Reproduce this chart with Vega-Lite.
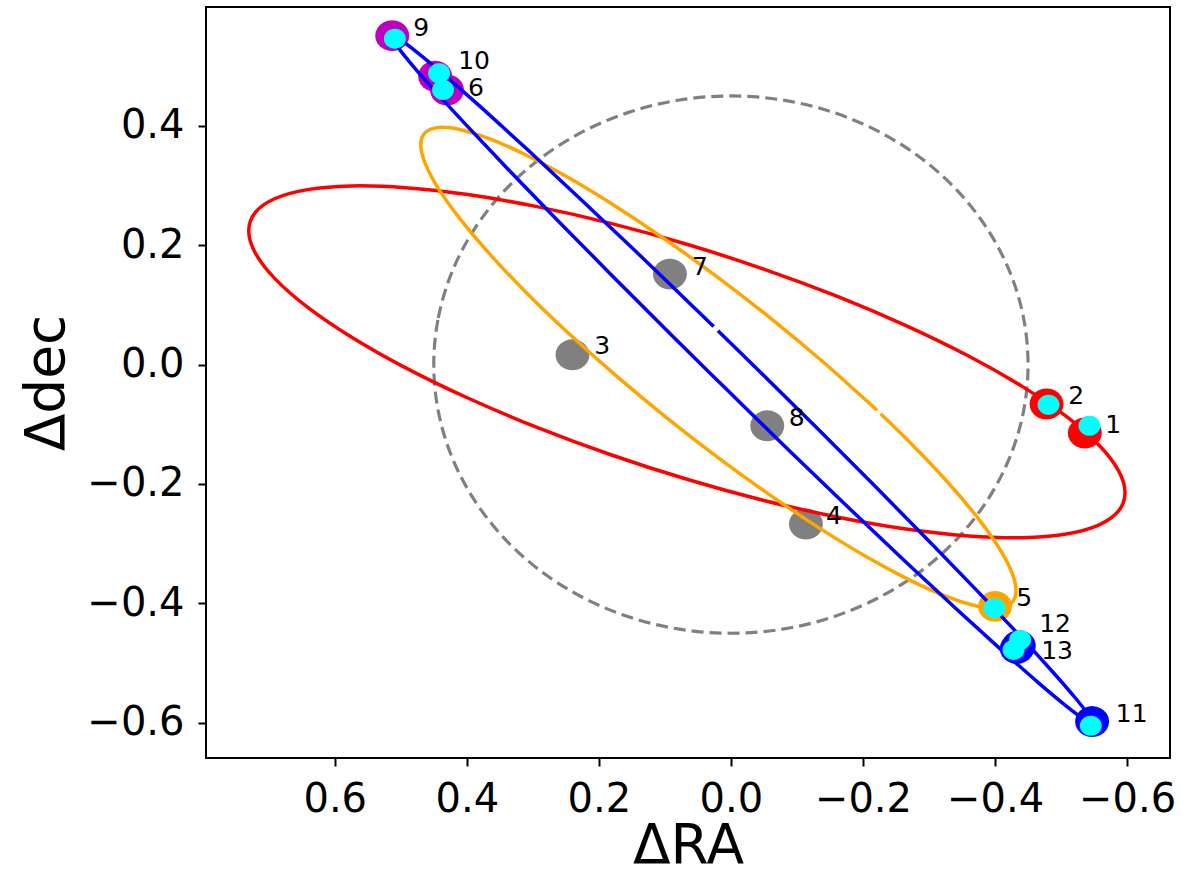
{
  "$schema": "https://vega.github.io/schema/vega-lite/v6.json",
  "width": 964,
  "height": 751,
  "autosize": {"type": "none"},
  "padding": {"left": 206, "top": 7, "right": 13, "bottom": 113},
  "background": "white",
  "config": {
    "view": {"stroke": "black", "strokeWidth": 2},
    "font": "DejaVu Sans",
    "axis": {
      "labelFont": "DejaVu Sans", "labelFontSize": 40, "labelColor": "black",
      "tickColor": "black", "tickWidth": 2, "tickSize": 8,
      "domain": false, "grid": false,
      "titleFont": "DejaVu Sans", "titleFontSize": 55, "titleFontWeight": "normal", "titleColor": "black"
    }
  },
  "datasets": {
    "circle": [
      {"i":0,"x":0.45,"y":0},{"i":1,"x":0.4432,"y":0.0781},{"i":2,"x":0.4229,"y":0.1539},{"i":3,"x":0.3897,"y":0.225},
      {"i":4,"x":0.3447,"y":0.2893},{"i":5,"x":0.2893,"y":0.3447},{"i":6,"x":0.225,"y":0.3897},{"i":7,"x":0.1539,"y":0.4229},
      {"i":8,"x":0.0781,"y":0.4432},{"i":9,"x":0,"y":0.45},{"i":10,"x":-0.0781,"y":0.4432},{"i":11,"x":-0.1539,"y":0.4229},
      {"i":12,"x":-0.225,"y":0.3897},{"i":13,"x":-0.2893,"y":0.3447},{"i":14,"x":-0.3447,"y":0.2893},{"i":15,"x":-0.3897,"y":0.225},
      {"i":16,"x":-0.4229,"y":0.1539},{"i":17,"x":-0.4432,"y":0.0781},{"i":18,"x":-0.45,"y":0},{"i":19,"x":-0.4432,"y":-0.0781},
      {"i":20,"x":-0.4229,"y":-0.1539},{"i":21,"x":-0.3897,"y":-0.225},{"i":22,"x":-0.3447,"y":-0.2893},{"i":23,"x":-0.2893,"y":-0.3447},
      {"i":24,"x":-0.225,"y":-0.3897},{"i":25,"x":-0.1539,"y":-0.4229},{"i":26,"x":-0.0781,"y":-0.4432},{"i":27,"x":0,"y":-0.45},
      {"i":28,"x":0.0781,"y":-0.4432},{"i":29,"x":0.1539,"y":-0.4229},{"i":30,"x":0.225,"y":-0.3897},{"i":31,"x":0.2893,"y":-0.3447},
      {"i":32,"x":0.3447,"y":-0.2893},{"i":33,"x":0.3897,"y":-0.225},{"i":34,"x":0.4229,"y":-0.1539},{"i":35,"x":0.4432,"y":-0.0781}
    ],
    "red": [
      {"i":0,"x":-0.5969,"y":-0.2147},{"i":1,"x":-0.5868,"y":-0.2456},{"i":2,"x":-0.5569,"y":-0.2688},{"i":3,"x":-0.508,"y":-0.2837},
      {"i":4,"x":-0.4416,"y":-0.2899},{"i":5,"x":-0.3599,"y":-0.287},{"i":6,"x":-0.2651,"y":-0.2754},{"i":7,"x":-0.1603,"y":-0.2552},
      {"i":8,"x":-0.0485,"y":-0.2272},{"i":9,"x":0.0667,"y":-0.1921},{"i":10,"x":0.1819,"y":-0.151},{"i":11,"x":0.2937,"y":-0.1052},
      {"i":12,"x":0.3985,"y":-0.056},{"i":13,"x":0.4933,"y":-0.005},{"i":14,"x":0.575,"y":0.0463},{"i":15,"x":0.6414,"y":0.0963},
      {"i":16,"x":0.6903,"y":0.1436},{"i":17,"x":0.7202,"y":0.1866},{"i":18,"x":0.7303,"y":0.2241},{"i":19,"x":0.7202,"y":0.255},
      {"i":20,"x":0.6903,"y":0.2782},{"i":21,"x":0.6414,"y":0.2931},{"i":22,"x":0.575,"y":0.2993},{"i":23,"x":0.4933,"y":0.2964},
      {"i":24,"x":0.3985,"y":0.2848},{"i":25,"x":0.2937,"y":0.2646},{"i":26,"x":0.1819,"y":0.2366},{"i":27,"x":0.0667,"y":0.2015},
      {"i":28,"x":-0.0485,"y":0.1604},{"i":29,"x":-0.1603,"y":0.1146},{"i":30,"x":-0.2651,"y":0.0654},{"i":31,"x":-0.3599,"y":0.0144},
      {"i":32,"x":-0.4416,"y":-0.0369},{"i":33,"x":-0.508,"y":-0.0869},{"i":34,"x":-0.5569,"y":-0.1342},{"i":35,"x":-0.5868,"y":-0.1772}
    ],
    "orange": [
      {"i":0,"x":-0.2266,"y":-0.0823},{"i":1,"x":-0.2709,"y":-0.13},{"i":2,"x":-0.3264,"y":-0.1946},{"i":3,"x":-0.3715,"y":-0.2535},
      {"i":4,"x":-0.4047,"y":-0.3048},{"i":5,"x":-0.425,"y":-0.347},{"i":6,"x":-0.4319,"y":-0.3789},{"i":7,"x":-0.425,"y":-0.3994},
      {"i":8,"x":-0.4047,"y":-0.408},{"i":9,"x":-0.3715,"y":-0.4043},{"i":10,"x":-0.3264,"y":-0.3884},{"i":11,"x":-0.2709,"y":-0.361},
      {"i":12,"x":-0.2065,"y":-0.3228},{"i":13,"x":-0.1353,"y":-0.2748},{"i":14,"x":-0.0594,"y":-0.2187},{"i":15,"x":0.0189,"y":-0.1562},
      {"i":16,"x":0.0972,"y":-0.0891},{"i":17,"x":0.1731,"y":-0.0194},{"i":18,"x":0.2443,"y":0.0508},{"i":19,"x":0.3087,"y":0.1192},
      {"i":20,"x":0.3642,"y":0.1838},{"i":21,"x":0.4093,"y":0.2427},{"i":22,"x":0.4425,"y":0.294},{"i":23,"x":0.4628,"y":0.3362},
      {"i":24,"x":0.4697,"y":0.3681},{"i":25,"x":0.4628,"y":0.3886},{"i":26,"x":0.4425,"y":0.3972},{"i":27,"x":0.4093,"y":0.3935},
      {"i":28,"x":0.3642,"y":0.3776},{"i":29,"x":0.3087,"y":0.3502},{"i":30,"x":0.2443,"y":0.312},{"i":31,"x":0.1731,"y":0.264},
      {"i":32,"x":0.0972,"y":0.2079},{"i":33,"x":0.0189,"y":0.1454},{"i":34,"x":-0.0594,"y":0.0783},{"i":35,"x":-0.1353,"y":0.0086},
      {"i":36,"x":-0.2065,"y":-0.0616},{"i":37,"x":-0.2213,"y":-0.0768}
    ],
    "blue": [
      {"i":0,"x":0.0261,"y":0.0637},{"i":1,"x":0.0563,"y":0.0962},{"i":2,"x":0.1462,"y":0.1918},{"i":3,"x":0.2312,"y":0.2809},
      {"i":4,"x":0.3086,"y":0.3607},{"i":5,"x":0.3761,"y":0.4287},{"i":6,"x":0.4317,"y":0.4829},{"i":7,"x":0.4738,"y":0.5218},
      {"i":8,"x":0.5008,"y":0.5441},{"i":9,"x":0.5121,"y":0.5491},{"i":10,"x":0.5074,"y":0.5366},{"i":11,"x":0.4868,"y":0.5071},
      {"i":12,"x":0.4508,"y":0.4614},{"i":13,"x":0.4007,"y":0.4011},{"i":14,"x":0.3379,"y":0.3277},{"i":15,"x":0.2643,"y":0.2436},
      {"i":16,"x":0.1821,"y":0.1514},{"i":17,"x":0.0939,"y":0.0538},{"i":18,"x":0.0024,"y":-0.0461},{"i":19,"x":-0.0897,"y":-0.1454},
      {"i":20,"x":-0.1795,"y":-0.241},{"i":21,"x":-0.2645,"y":-0.3302},{"i":22,"x":-0.3419,"y":-0.4099},{"i":23,"x":-0.4095,"y":-0.4779},
      {"i":24,"x":-0.465,"y":-0.5322},{"i":25,"x":-0.507,"y":-0.5711},{"i":26,"x":-0.5341,"y":-0.5934},{"i":27,"x":-0.5455,"y":-0.5983},
      {"i":28,"x":-0.5408,"y":-0.5859},{"i":29,"x":-0.5201,"y":-0.5564},{"i":30,"x":-0.4841,"y":-0.5107},{"i":31,"x":-0.4341,"y":-0.4503},
      {"i":32,"x":-0.3712,"y":-0.3769},{"i":33,"x":-0.2976,"y":-0.2929},{"i":34,"x":-0.2154,"y":-0.2006},{"i":35,"x":-0.1273,"y":-0.103},
      {"i":36,"x":-0.0358,"y":-0.0031},{"i":37,"x":0.0196,"y":0.0567}
    ],
    "gray": [
      {"id":"3","x":0.24,"y":0.0164},{"id":"4","x":-0.1136,"y":-0.267},
      {"id":"7","x":0.0924,"y":0.1516},{"id":"8","x":-0.055,"y":-0.1025}
    ],
    "big": [
      {"id":"9","x":0.513,"y":0.551,"c":"#bf00bf"},{"id":"10","x":0.448,"y":0.483,"c":"#bf00bf"},
      {"id":"6","x":0.43,"y":0.46,"c":"#bf00bf"},{"id":"2","x":-0.478,"y":-0.066,"c":"#ff0000"},
      {"id":"1","x":-0.536,"y":-0.1147,"c":"#ff0000"},{"id":"5","x":-0.4,"y":-0.405,"c":"#ffa500"},
      {"id":"12","x":-0.436,"y":-0.471,"c":"#0000ff"},{"id":"13","x":-0.433,"y":-0.4755,"c":"#0000ff"},
      {"id":"11","x":-0.547,"y":-0.598,"c":"#0000ff"}
    ],
    "cyan": [
      {"id":"9","x":0.509,"y":0.546},{"id":"10","x":0.442,"y":0.488},{"id":"6","x":0.436,"y":0.46},
      {"id":"2","x":-0.481,"y":-0.0673},{"id":"1","x":-0.543,"y":-0.1025},{"id":"5","x":-0.399,"y":-0.408},
      {"id":"12","x":-0.438,"y":-0.461},{"id":"13","x":-0.428,"y":-0.478},{"id":"11","x":-0.545,"y":-0.605}
    ],
    "labels": [
      {"t":"9","x":0.469,"y":0.564},{"t":"10","x":0.389,"y":0.509},{"t":"6","x":0.386,"y":0.464},
      {"t":"7","x":0.047,"y":0.164},{"t":"3","x":0.195,"y":0.0315},{"t":"8","x":-0.0995,"y":-0.0896},
      {"t":"4","x":-0.156,"y":-0.254},{"t":"2","x":-0.523,"y":-0.0534},{"t":"1","x":-0.579,"y":-0.1008},
      {"t":"5","x":-0.444,"y":-0.391},{"t":"12","x":-0.491,"y":-0.4345},{"t":"13","x":-0.494,"y":-0.479},
      {"t":"11","x":-0.607,"y":-0.585}
    ]
  },
  "encoding": {
    "x": {
      "field": "x", "type": "quantitative",
      "scale": {"domain": [-0.665, 0.795], "reverse": true, "nice": false, "zero": false},
      "axis": {"orient": "bottom", "values": [-0.6, -0.4, -0.2, 0, 0.2, 0.4, 0.6], "format": ".1f", "labelPadding": 13, "titlePadding": 0, "title": "ΔRA"}
    },
    "y": {
      "field": "y", "type": "quantitative",
      "scale": {"domain": [-0.659, 0.599], "nice": false, "zero": false},
      "axis": {"values": [-0.6, -0.4, -0.2, 0, 0.2, 0.4], "format": ".1f", "labelPadding": 14, "titlePadding": 11, "title": "Δdec"}
    }
  },
  "layer": [
    {
      "data": {"name": "circle"},
      "mark": {"type": "line", "interpolate": "cardinal-closed", "color": "#808080", "strokeWidth": 3.2, "strokeDash": [12, 6], "clip": true},
      "encoding": {"order": {"field": "i", "type": "quantitative"}}
    },
    {
      "data": {"name": "gray"},
      "mark": {"type": "point", "filled": true, "opacity": 1, "color": "#808080", "strokeWidth": 0, "size": 1156,
        "shape": "M1,0L0.966,0.236L0.866,0.455L0.707,0.644L0.5,0.788L0.259,0.879L0,0.91L-0.259,0.879L-0.5,0.788L-0.707,0.644L-0.866,0.455L-0.966,0.236L-1,0L-0.966,-0.236L-0.866,-0.455L-0.707,-0.644L-0.5,-0.788L-0.259,-0.879L0,-0.91L0.259,-0.879L0.5,-0.788L0.707,-0.644L0.866,-0.455L0.966,-0.236Z"}
    },
    {
      "data": {"name": "big"},
      "mark": {"type": "point", "filled": true, "opacity": 1, "strokeWidth": 0, "size": 1156,
        "shape": "M1,0L0.966,0.236L0.866,0.455L0.707,0.644L0.5,0.788L0.259,0.879L0,0.91L-0.259,0.879L-0.5,0.788L-0.707,0.644L-0.866,0.455L-0.966,0.236L-1,0L-0.966,-0.236L-0.866,-0.455L-0.707,-0.644L-0.5,-0.788L-0.259,-0.879L0,-0.91L0.259,-0.879L0.5,-0.788L0.707,-0.644L0.866,-0.455L0.966,-0.236Z"},
      "encoding": {"color": {"field": "c", "type": "nominal", "scale": null}}
    },
    {
      "data": {"name": "red"},
      "mark": {"type": "line", "interpolate": "cardinal-closed", "color": "#ff0000", "strokeWidth": 3.5},
      "encoding": {"order": {"field": "i", "type": "quantitative"}}
    },
    {
      "data": {"name": "orange"},
      "mark": {"type": "line", "interpolate": "cardinal", "color": "#ffa500", "strokeWidth": 3.5},
      "encoding": {"order": {"field": "i", "type": "quantitative"}}
    },
    {
      "data": {"name": "blue"},
      "mark": {"type": "line", "interpolate": "cardinal", "color": "#0000ff", "strokeWidth": 3.5},
      "encoding": {"order": {"field": "i", "type": "quantitative"}}
    },
    {
      "data": {"name": "cyan"},
      "mark": {"type": "point", "filled": true, "opacity": 1, "color": "#00ffff", "strokeWidth": 0, "size": 484,
        "shape": "M1,0L0.966,0.236L0.866,0.455L0.707,0.644L0.5,0.788L0.259,0.879L0,0.91L-0.259,0.879L-0.5,0.788L-0.707,0.644L-0.866,0.455L-0.966,0.236L-1,0L-0.966,-0.236L-0.866,-0.455L-0.707,-0.644L-0.5,-0.788L-0.259,-0.879L0,-0.91L0.259,-0.879L0.5,-0.788L0.707,-0.644L0.866,-0.455L0.966,-0.236Z"}
    },
    {
      "data": {"name": "labels"},
      "mark": {"type": "text", "font": "DejaVu Sans", "fontSize": 25, "color": "black", "align": "center", "baseline": "middle"},
      "encoding": {"text": {"field": "t", "type": "nominal"}}
    }
  ]
}
